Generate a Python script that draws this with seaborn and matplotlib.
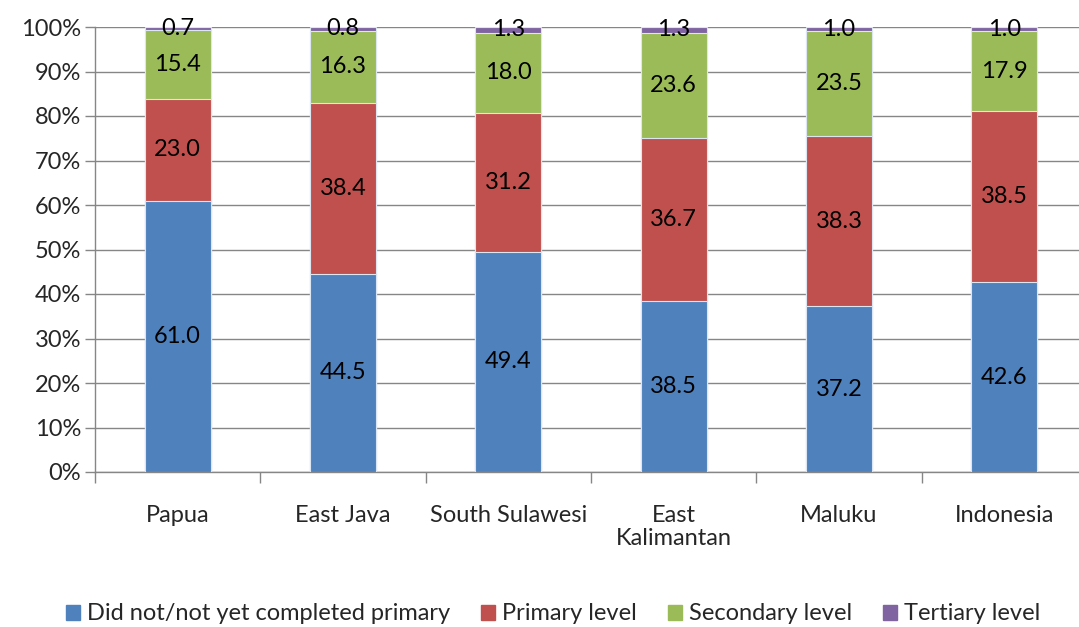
import numpy as np
import pandas as pd
import seaborn as sns
import matplotlib.pyplot as plt

regions = ['Papua', 'East Java', 'South Sulawesi', 'East\nKalimantan', 'Maluku', 'Indonesia']
not_completed = [61.0, 44.5, 49.4, 38.5, 37.2, 42.6]
primary = [23.0, 38.4, 31.2, 36.7, 38.3, 38.5]
secondary = [15.4, 16.3, 18.0, 23.6, 23.5, 17.9]
tertiary = [0.7, 0.8, 1.3, 1.3, 1.0, 1.0]

series_names = ['Did not/not yet completed primary', 'Primary level',
                'Secondary level', 'Tertiary level']
colors = ['#4F81BD', '#C0504D', '#9BBB59', '#8064A2']

sns.set_style("white")
plt.rcParams['font.family'] = ['Lato', 'DejaVu Sans']
fs = 17

vals = np.array([not_completed, primary, secondary, tertiary])
shares = vals / vals.sum(axis=0) * 100
cum = np.cumsum(shares, axis=0)

fig = plt.figure(figsize=(10.79, 6.27), dpi=100)
ax = fig.add_axes([95 / 1079, 1 - 472 / 627, 992 / 1079, 445 / 627])

# draw the tallest layer first so the lower ones sit on top
for i in range(3, -1, -1):
    df = pd.DataFrame({'region': regions, 'value': cum[i]})
    sns.barplot(data=df, x='region', y='value', color=colors[i], width=0.4,
                saturation=1, edgecolor='#dce6f2', linewidth=0.8, ax=ax, zorder=3)

for i in range(4):
    bottom = cum[i] - shares[i]
    for j in range(len(regions)):
        ax.text(j, bottom[j] + shares[i][j] / 2, f'{vals[i][j]:.1f}',
                ha='center', va='center', fontsize=fs, color='black', zorder=5)

ax.set_ylim(0, 100)
ax.set_xlim(-0.5, 5.5)
ax.set_yticks(np.arange(0, 101, 10))
ax.set_yticklabels([f'{v}%' for v in range(0, 101, 10)], fontsize=fs)
ax.yaxis.grid(True, color='#868686', linewidth=1, zorder=0)
ax.set_axisbelow(True)

ax.set_xticks(np.arange(6))
ax.set_xticklabels(regions, fontsize=fs, linespacing=1.1)
ax.tick_params(axis='x', length=0, pad=24)
ax.set_xticks(np.arange(-0.5, 6, 1), minor=True)
ax.tick_params(axis='x', which='minor', length=8, color='#868686', width=1, direction='out')
ax.tick_params(axis='y', length=7, color='#868686', width=1, direction='out', pad=3)
ax.xaxis.set_tick_params(bottom=True, which='minor')
ax.yaxis.set_tick_params(left=True)

for s in ['top', 'right']:
    ax.spines[s].set_visible(False)
for s in ['left', 'bottom']:
    ax.spines[s].set_color('#868686')
    ax.spines[s].set_linewidth(1)
ax.set_xlabel('')
ax.set_ylabel('')

handles = [plt.Rectangle((0, 0), 1, 1, color=c) for c in colors]
fig.legend(handles, series_names, loc='center', bbox_to_anchor=(553 / 1079, 1 - 614 / 627),
           ncol=4, frameon=False, fontsize=fs, handlelength=0.6, handleheight=0.6,
           handletextpad=0.3, columnspacing=1.3)

fig.savefig('out.png', dpi=100)
